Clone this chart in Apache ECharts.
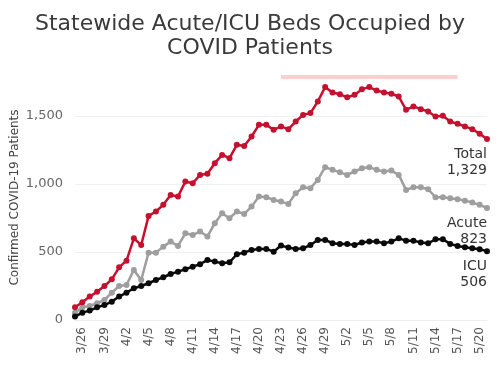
<!DOCTYPE html>
<html>
<head>
<meta charset="utf-8">
<script src="https://cdn.jsdelivr.net/npm/echarts@6/dist/echarts.min.js"></script>
<style>html,body{margin:0;padding:0;background:#fff}#c{width:500px;height:368px}</style>
</head>
<body>
<div id="c"></div>
<script>
var dates = ['3/25','3/26','3/27','3/28','3/29','3/30','3/31','4/2','4/3','4/4','4/5','4/6','4/7','4/8','4/9','4/10','4/11','4/12','4/13','4/14','4/15','4/16','4/17','4/18','4/19','4/20','4/21','4/22','4/23','4/24','4/25','4/26','4/27','4/28','4/29','4/30','5/1','5/2','5/3','5/4','5/5','5/6','5/7','5/8','5/9','5/10','5/11','5/12','5/13','5/14','5/15','5/16','5/17','5/18','5/19','5/20','5/21'];
var total = [93,130,172,208,250,299,387,436,600,551,765,797,846,919,907,1017,1005,1066,1074,1152,1213,1189,1287,1279,1348,1434,1434,1397,1422,1402,1458,1507,1520,1605,1711,1672,1658,1637,1654,1696,1711,1686,1672,1662,1642,1544,1569,1549,1532,1495,1500,1458,1441,1422,1402,1368,1329];
var acute = [54,93,103,123,147,201,250,257,368,294,495,495,539,576,544,637,625,650,613,711,784,748,797,779,833,907,902,882,870,853,931,975,968,1029,1123,1103,1085,1066,1091,1115,1123,1103,1091,1098,1066,956,975,975,961,902,902,895,887,877,863,846,823];
var icu = [25,54,69,93,110,135,172,201,233,250,270,294,314,338,355,373,392,410,441,429,417,424,483,495,515,522,522,502,547,532,522,527,551,588,588,564,559,559,551,569,576,576,564,576,600,583,583,569,564,593,593,559,544,534,527,520,506];
var seriesNames = ['Total','Acute','ICU'];
var yTicks = [0,500,1000,1500];
var bandStart = '4/23', bandEnd = '5/17';

var FONT = '"DejaVu Sans", Verdana, sans-serif';
function fmt(v){ return v.toLocaleString('en-US'); }
function lastLabel(name, arr){
  return function(p){ return p.dataIndex === arr.length-1 ? name + '\n' + fmt(arr[arr.length-1]) : ''; };
}
function mk(name, arr, color, z){
  return {
    name: name, type: 'line', data: arr, z: z,
    symbol: 'circle', symbolSize: 6, showSymbol: true, showAllSymbol: true,
    lineStyle: {color: color, width: 2.5},
    itemStyle: {color: color},
    label: {show: true, position: 'bottom', align: 'right', distance: 4,
      formatter: lastLabel(name, arr), color: '#333', fontSize: 14, fontFamily: FONT, lineHeight: 16},
    labelLayout: {hideOverlap: false},
    animation: false
  };
}
var chart = echarts.init(document.getElementById('c'));
var sTotal = mk(seriesNames[0], total, '#c5102f', 3);
sTotal.markArea = {silent: true, itemStyle: {color: '#f8d0cd'},
  data: [[{xAxis: bandStart, yAxis: 1770}, {xAxis: bandEnd, yAxis: 1800}]]};
chart.setOption({
  animation: false,
  title: {text: 'Statewide Acute/ICU Beds Occupied by\nCOVID Patients', left: 245, textAlign: 'center', top: 7,
    textStyle: {fontFamily: FONT, fontSize: 22, fontWeight: 'normal', color: '#3a3a3a', lineHeight: 24}},
  grid: {left: 75, right: 13, top: 75, bottom: 48, outerBoundsMode: 'none', containLabel: false},
  xAxis: {type: 'category', data: dates, boundaryGap: false,
    axisLine: {show: true, lineStyle: {color: '#eeeeee'}}, axisTick: {show: false},
    axisLabel: {rotate: 90, fontFamily: FONT, fontSize: 12, color: '#555', margin: 7,
      interval: function(i){ return i % 3 === 1; }},
    splitLine: {show: false}},
  yAxis: {type: 'value', min: 0, max: 1800, interval: 500,
    name: 'Confirmed COVID-19 Patients', nameLocation: 'middle', nameGap: 54, nameMoveOverlap: false,
    nameTextStyle: {fontFamily: FONT, fontSize: 12, color: '#444'},
    axisLine: {show: false}, axisTick: {show: false},
    axisLabel: {fontFamily: FONT, fontSize: 13, color: '#666', margin: 12, showMaxLabel: false,
      formatter: function(v){ return yTicks.indexOf(v) >= 0 ? fmt(v) : ''; }},
    splitLine: {lineStyle: {color: ['#eeeeee','#f0f0f0','#f0f0f0','#f0f0f0','#ffffff'], width: 1}}},
  series: [sTotal, mk(seriesNames[1], acute, '#9e9e9e', 2), mk(seriesNames[2], icu, '#0a0a0a', 4)]
});
</script>
</body>
</html>
